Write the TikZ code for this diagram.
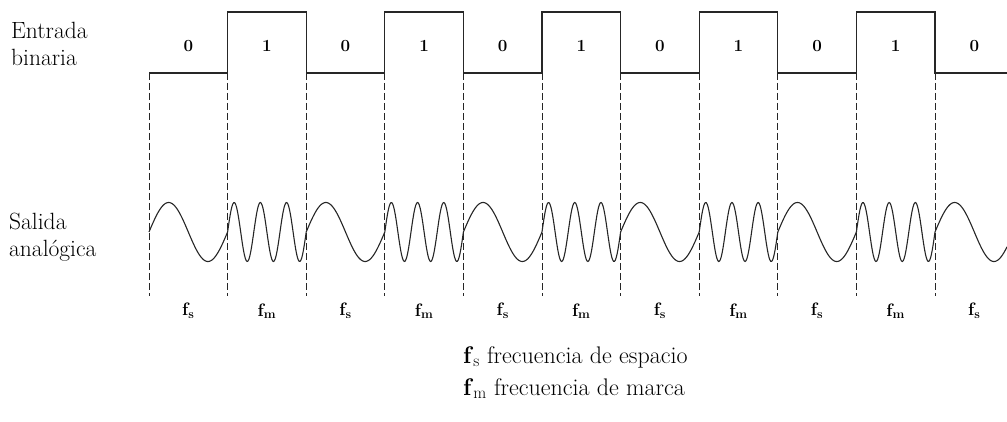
\documentclass[tikz,border=0pt]{standalone}
\usepackage{fontspec}
\usepackage{tikz}
\usetikzlibrary{calc,positioning}
\definecolor{trazo}{HTML}{262626}

\tikzset{
  senal/.style={draw=trazo, line width=1.1pt},
  guia/.style={draw=trazo, line width=0.8pt, dash pattern=on 7pt off 3pt},
  rotulo/.style={font=\fontsize{23.5}{27}\selectfont, align=left, anchor=west, inner sep=0pt},
  bit/.style={font=\fontsize{17}{19}\selectfont\bfseries},
  frec/.style={font=\fontsize{18}{20}\selectfont\bfseries},
  leyenda/.style={font=\fontsize{24}{26}\selectfont, anchor=west, inner sep=0pt}
}

\begin{document}
\begin{tikzpicture}[x=1pt, y=-1pt]
  \useasboundingbox (0,0) rectangle (1007,422);

  % rotulos de la izquierda
  \node[rotulo] (entrada) at (11,44) {Entrada\\binaria};
  \node[rotulo] (salida) at (9,237) {Salida\\anal\'ogica};

  % entrada binaria
  \draw[senal] (149,73)
    \foreach \b [count=\i from 0] in {0,1,0,1,0,1,0,1,0,1,0} {
      -- ({149+78.6*\i},{73-61*\b}) -- ({min(149+78.6*(\i+1),1007)},{73-61*\b})
    };

  % salida FSK, guias y frecuencias
  \foreach \b/\tipo [count=\i from 0] in {0/s,1/m,0/s,1/m,0/s,1/m,0/s,1/m,0/s,1/m,0/s} {
    \pgfmathsetmacro\xa{149+78.6*\i}
    \pgfmathsetmacro\xb{min(\xa+78.6,1007)}
    \pgfmathsetmacro\paso{360*(1+2*\b)/78.6}
    \draw[senal] plot[domain=\xa:\xb, samples=90]
      (\x, {232-29.5*sin(\paso*(\x-\xa))});
    \draw[guia] (\xa,73) -- (\xa,296);
    \node[bit] (b\i) at (\xa+39.3,46) {\b};
    \node[frec] (f\i) at (\xa+39.3,311) {f\textsubscript{\tipo}};
  }

  % leyenda
  \node[leyenda] (esp) at (463,357) {\textbf{f}\textsubscript{s} frecuencia de espacio};
  \node[leyenda, below=10pt of esp.south west, anchor=north west] (mar)
    {\textbf{f}\textsubscript{m} frecuencia de marca};
\end{tikzpicture}
\end{document}
